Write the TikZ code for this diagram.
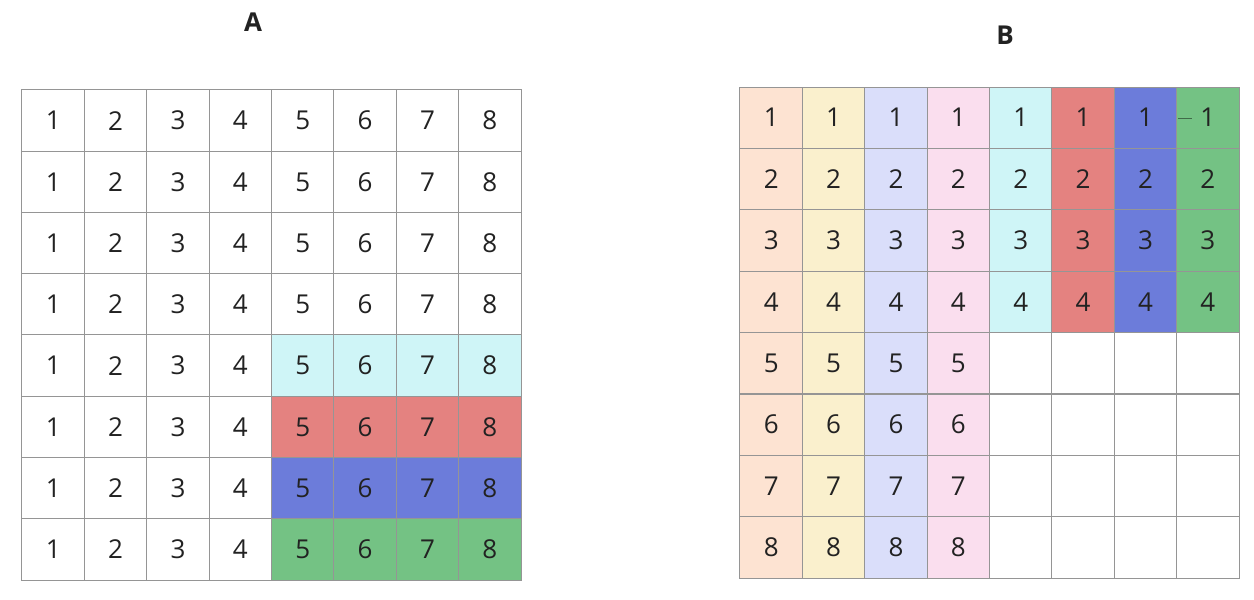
\documentclass[tikz,border=0pt]{standalone}
\usepackage{fontspec}
\setmainfont{Open Sans}
\usepackage{xcolor}
\definecolor{band-1}{HTML}{FDE3D2}
\definecolor{band-2}{HTML}{FAF0CD}
\definecolor{band-3}{HTML}{DADEFA}
\definecolor{band-4}{HTML}{FADEEE}
\definecolor{band-5}{HTML}{CFF5F7}
\definecolor{band-6}{HTML}{E48280}
\definecolor{band-7}{HTML}{6C7CDA}
\definecolor{band-8}{HTML}{74C284}
\definecolor{gitter}{HTML}{959595}
\definecolor{schrift}{HTML}{222222}

\begin{document}
\begin{tikzpicture}[x=1pt,y=-1pt,
    cell/.style={draw=gitter,line width=1pt,minimum width=62.4pt,minimum height=61.3pt,
      inner sep=0pt,text=schrift,font=\fontsize{26}{30}\selectfont},
    titel/.style={text=schrift,font=\fontsize{26}{30}\selectfont\bfseries}]
    \useasboundingbox (0,0) rectangle (1254,600);
    \node[titel] (titel-a) at (253,22) {A};
    \node[titel] (titel-b) at (1005,35) {B};
    % A: same numbers in every row, coloured bands bottom right
    \foreach \r in {1,...,8}{
      \foreach \c in {1,...,8}{
        \ifnum\r>4 \ifnum\c>4 \def\fb{band-\r}\else\def\fb{white}\fi \else\def\fb{white}\fi
        \node[cell,fill=\fb] (a-\r-\c) at ({22+62.375*(\c-.5)},{90+61.25*(\r-.5)}) {\c};
      }
    }
    % B: transposed, coloured columns
    \foreach \r in {1,...,8}{
      \foreach \c in {1,...,8}{
        \ifnum\r>4 \ifnum\c>4 \def\fb{white}\def\txt{}\else\def\fb{band-\c}\def\txt{\r}\fi
        \else\def\fb{band-\c}\def\txt{\r}\fi
        \node[cell,fill=\fb] (b-\r-\c) at ({740+62.375*(\c-.5)},{87+61.4*(\r-.5)}) {\txt};
      }
    }
    \draw[band-8!55!black,line width=1pt] ([xshift=2pt,yshift=-1pt]b-1-8.west) -- ++(14,0);
  \end{tikzpicture}
\end{document}
